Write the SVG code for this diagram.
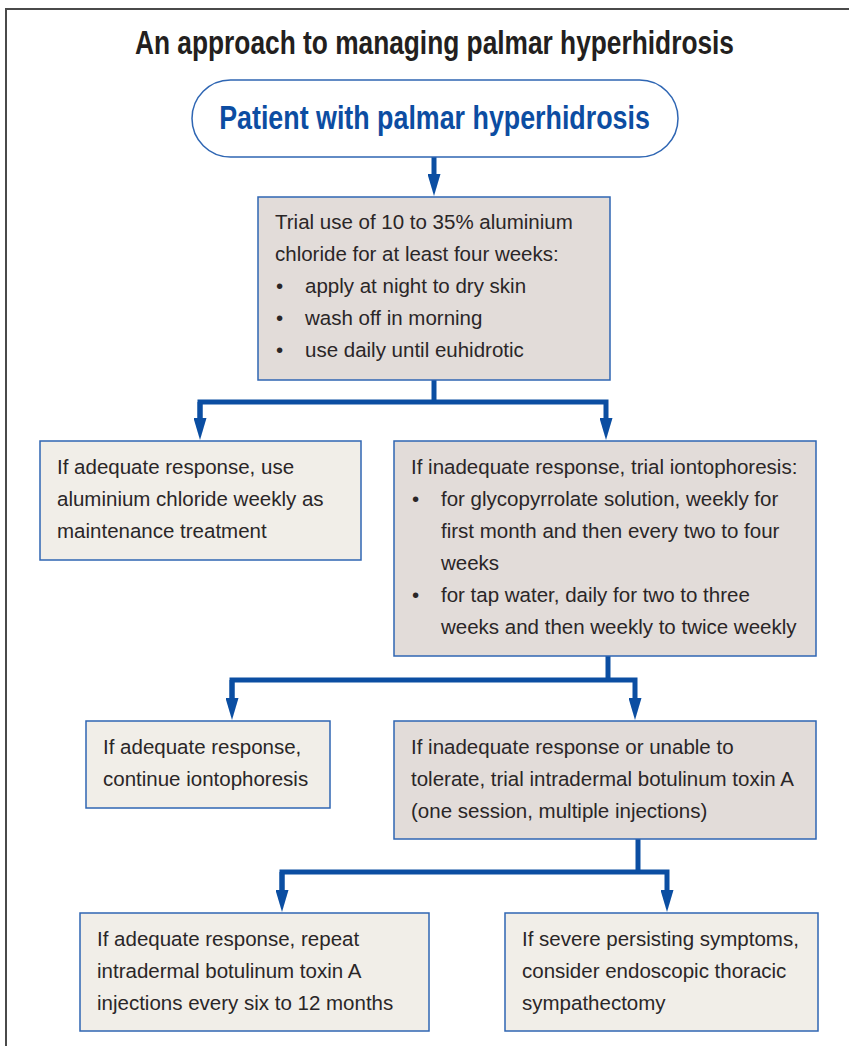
<svg xmlns="http://www.w3.org/2000/svg" width="849" height="1046" viewBox="0 0 849 1046">
  <style>
    .frame { fill: none; stroke: #4a4a4a; stroke-width: 2; }
    .box { stroke: #2f66b3; stroke-width: 1.5; }
    .grey { fill: #e2dcd9; }
    .light { fill: #f1eee8; }
    .t { font-family: "Liberation Sans", Arial, sans-serif; font-size: 20.5px; fill: #2a2627; }
    .title { font-family: "Liberation Sans", Arial, sans-serif; font-size: 33px; font-weight: bold; fill: #231f20; }
    .term { font-family: "Liberation Sans", Arial, sans-serif; font-size: 33px; font-weight: bold; fill: #0c4da2; }
    .conn { fill: none; stroke: #0b4ea2; stroke-width: 5; stroke-linejoin: miter; }
  </style>
  <defs>
    <marker id="ah" viewBox="0 -6.5 22 13" refX="1" refY="0" markerWidth="22" markerHeight="13" markerUnits="userSpaceOnUse" orient="auto">
      <path d="M0 -6.5 L22 0 L0 6.5 Z" fill="#0b4ea2"/>
    </marker>
  </defs>
  <rect width="849" height="1046" fill="#ffffff"/>
  <path class="frame" d="M6 1046 V9 H849"/>

  <g id="title">
    <text class="title" transform="translate(434.5,54) scale(0.797,1)" x="0" y="0" text-anchor="middle">An approach to managing palmar hyperhidrosis</text>
  </g>

  <g id="connectors">
    <path class="conn" d="M434 157 V175" marker-end="url(#ah)"/>
    <path class="conn" d="M434 380 V402"/>
    <path class="conn" d="M200 419 V402 H606 V419" marker-end="url(#ah)"/>
    <path class="conn" d="M200 402 V419" marker-end="url(#ah)"/>
    <path class="conn" d="M608 656 V680"/>
    <path class="conn" d="M232 699 V680 H635 V699" marker-end="url(#ah)"/>
    <path class="conn" d="M232 680 V699" marker-end="url(#ah)"/>
    <path class="conn" d="M638 839 V872"/>
    <path class="conn" d="M282 891 V872 H667 V891" marker-end="url(#ah)"/>
    <path class="conn" d="M282 872 V891" marker-end="url(#ah)"/>
  </g>

  <g id="start">
    <rect class="box" x="192" y="80" width="486" height="77" rx="38.5" ry="38.5" fill="#ffffff"/>
    <text class="term" transform="translate(434.5,129) scale(0.813,1)" x="0" y="0" text-anchor="middle">Patient with palmar hyperhidrosis</text>
  </g>

  <g id="aluminium-trial">
    <rect class="box grey" x="258" y="197" width="352" height="183"/>
    <text class="t" x="275" y="229">Trial use of 10 to 35% aluminium</text>
    <text class="t" x="275" y="261">chloride for at least four weeks:</text>
    <text class="t" x="276" y="293">•</text><text class="t" x="305" y="293">apply at night to dry skin</text>
    <text class="t" x="276" y="325">•</text><text class="t" x="305" y="325">wash off in morning</text>
    <text class="t" x="276" y="357">•</text><text class="t" x="305" y="357">use daily until euhidrotic</text>
  </g>

  <g id="maintenance">
    <rect class="box light" x="40" y="441" width="321" height="119"/>
    <text class="t" x="57" y="474">If adequate response, use</text>
    <text class="t" x="57" y="506">aluminium chloride weekly as</text>
    <text class="t" x="57" y="538">maintenance treatment</text>
  </g>

  <g id="iontophoresis">
    <rect class="box grey" x="394" y="441" width="422" height="215"/>
    <text class="t" x="411" y="474">If inadequate response, trial iontophoresis:</text>
    <text class="t" x="412" y="506">•</text><text class="t" x="441" y="506">for glycopyrrolate solution, weekly for</text>
    <text class="t" x="441" y="538">first month and then every two to four</text>
    <text class="t" x="441" y="570">weeks</text>
    <text class="t" x="412" y="602">•</text><text class="t" x="441" y="602">for tap water, daily for two to three</text>
    <text class="t" x="441" y="634">weeks and then weekly to twice weekly</text>
  </g>

  <g id="continue-iontophoresis">
    <rect class="box light" x="86" y="721" width="244" height="87"/>
    <text class="t" x="103" y="754">If adequate response,</text>
    <text class="t" x="103" y="786">continue iontophoresis</text>
  </g>

  <g id="botulinum-trial">
    <rect class="box grey" x="394" y="721" width="422" height="118"/>
    <text class="t" x="411" y="754">If inadequate response or unable to</text>
    <text class="t" x="411" y="786">tolerate, trial intradermal botulinum toxin A</text>
    <text class="t" x="411" y="818">(one session, multiple injections)</text>
  </g>

  <g id="repeat-botulinum">
    <rect class="box light" x="80" y="913" width="349" height="118"/>
    <text class="t" x="97" y="946">If adequate response, repeat</text>
    <text class="t" x="97" y="978">intradermal botulinum toxin A</text>
    <text class="t" x="97" y="1010">injections every six to 12 months</text>
  </g>

  <g id="sympathectomy">
    <rect class="box light" x="505" y="913" width="313" height="118"/>
    <text class="t" x="522" y="946">If severe persisting symptoms,</text>
    <text class="t" x="522" y="978">consider endoscopic thoracic</text>
    <text class="t" x="522" y="1010">sympathectomy</text>
  </g>
</svg>
